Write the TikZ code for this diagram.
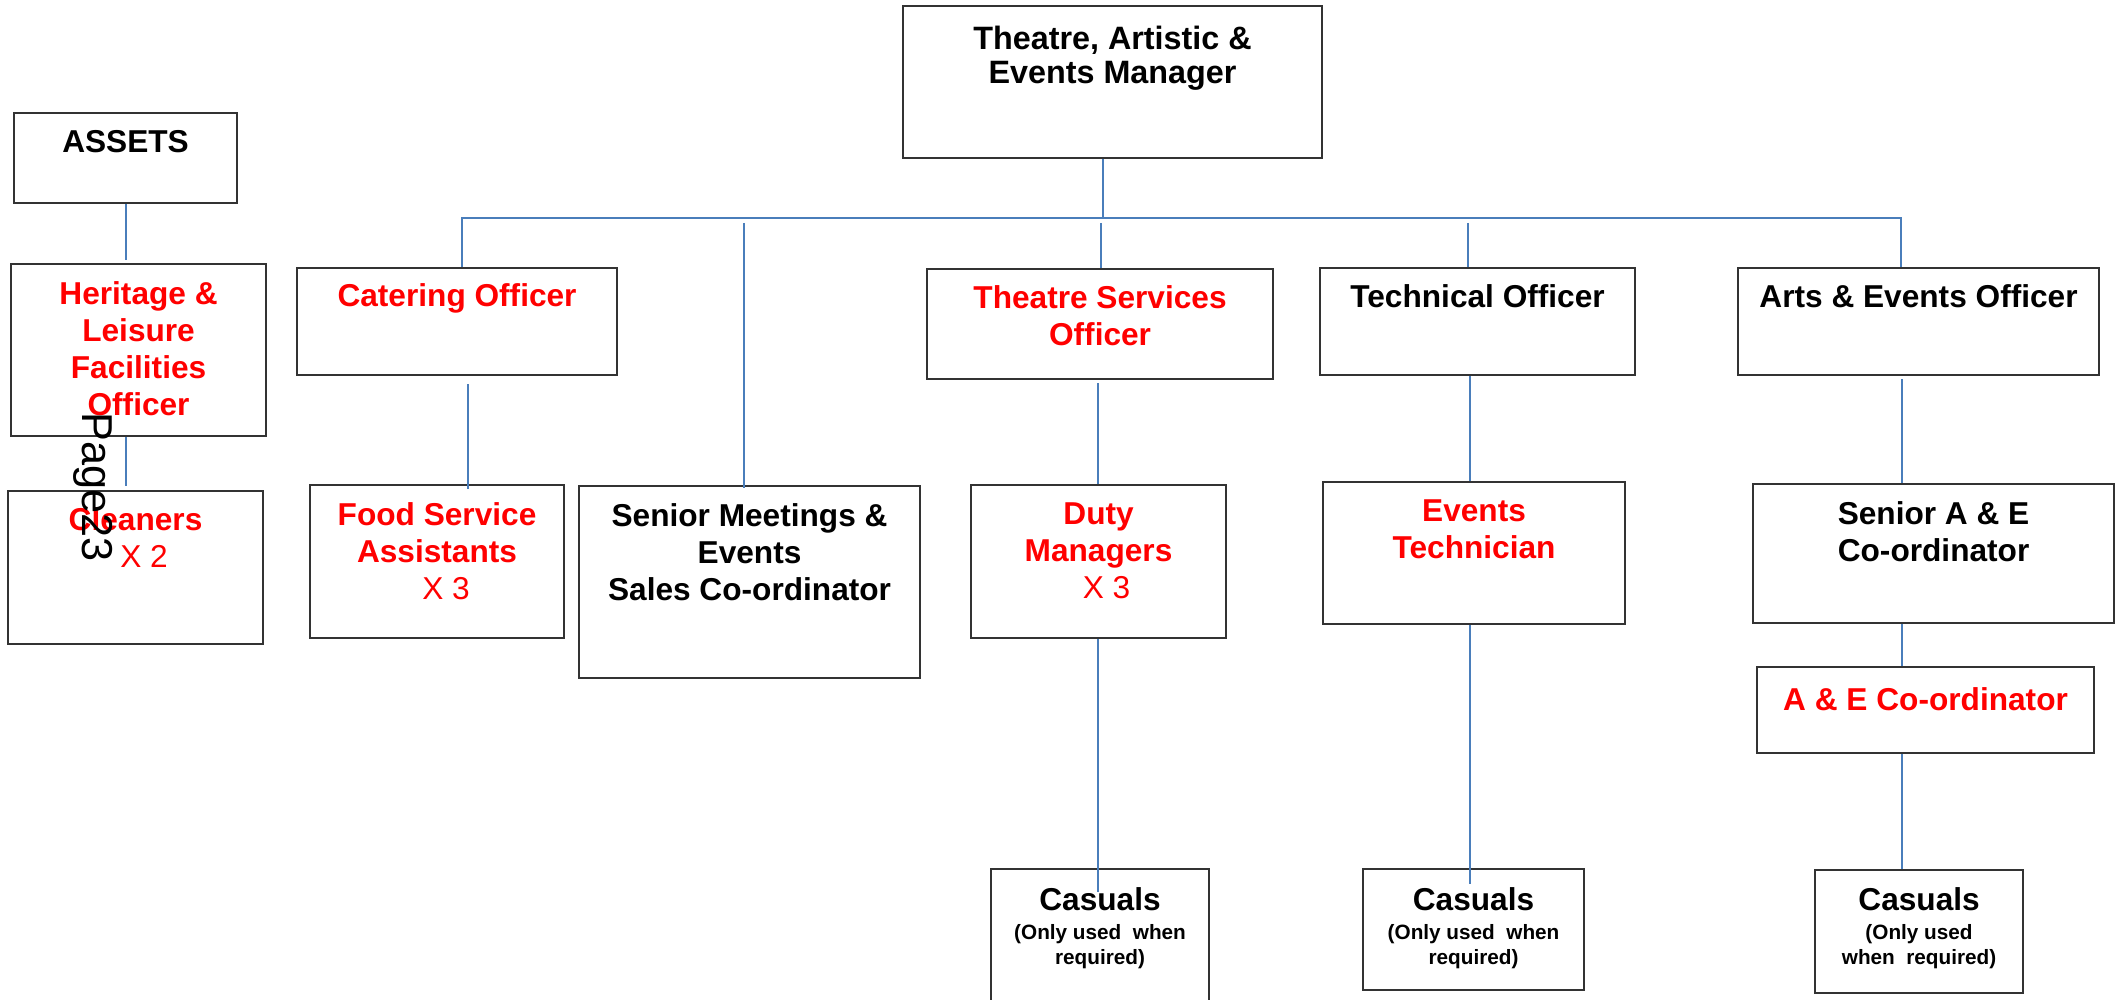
\documentclass[tikz,border=0pt]{standalone}
\usepackage{fontspec}
\setmainfont{Liberation Sans}
\usepackage{xcolor}
\usepackage{tikz}
\usetikzlibrary{positioning,calc}

\definecolor{linkblue}{HTML}{4A7EBB}

\begin{document}
\begin{tikzpicture}[
    post/.style={draw=black!80, line width=0.6pt, anchor=north west, inner sep=0pt},
    jobtext/.style={inner sep=0pt, align=center, font=\bfseries\fontsize{9}{10.5}\selectfont},
    redjob/.style={jobtext, text=red},
    notetext/.style={inner sep=0pt, align=center, font=\bfseries\fontsize{5.9}{7.1}\selectfont},
    linkline/.style={draw=linkblue, line width=0.6pt}]
    \useasboundingbox (0,0) rectangle (21.27,-10);

    % Top of the tree
    \node[post, minimum width=4.19cm, minimum height=1.52cm] (mgr) at (9.02,-0.05) {};
    % Assets side
    \node[post, minimum width=2.23cm, minimum height=0.90cm] (assets) at (0.13,-1.12) {};
    \node[post, minimum width=2.55cm, minimum height=1.72cm] (heritage) at (0.10,-2.63) {};
    \node[post, minimum width=2.55cm, minimum height=1.53cm] (cleaners) at (0.07,-4.90) {};
    % Officers
    \node[post, minimum width=3.20cm, minimum height=1.07cm] (catering) at (2.96,-2.67) {};
    \node[post, minimum width=3.46cm, minimum height=1.10cm] (tso) at (9.26,-2.68) {};
    \node[post, minimum width=3.15cm, minimum height=1.07cm] (technical) at (13.19,-2.67) {};
    \node[post, minimum width=3.61cm, minimum height=1.07cm] (arts) at (17.37,-2.67) {};
    % Second row
    \node[post, minimum width=2.54cm, minimum height=1.53cm] (food) at (3.09,-4.84) {};
    \node[post, minimum width=3.41cm, minimum height=1.92cm] (sales) at (5.78,-4.85) {};
    \node[post, minimum width=2.55cm, minimum height=1.53cm] (duty) at (9.70,-4.84) {};
    \node[post, minimum width=3.02cm, minimum height=1.42cm] (evtech) at (13.22,-4.81) {};
    \node[post, minimum width=3.61cm, minimum height=1.39cm] (seniorae) at (17.52,-4.83) {};
    \node[post, minimum width=3.37cm, minimum height=0.86cm] (aecoord) at (17.56,-6.66) {};
    % Casuals
    \node[post, minimum width=2.18cm, minimum height=1.40cm] (casA) at (9.90,-8.68) {};
    \node[post, minimum width=2.21cm, minimum height=1.21cm] (casB) at (13.62,-8.68) {};
    \node[post, minimum width=2.08cm, minimum height=1.23cm] (casC) at (18.14,-8.69) {};

    % Bus under the manager
    \coordinate (busL) at (4.62,-2.18);
    \coordinate (busR) at (19.01,-2.18);
    \coordinate (tapMgr) at (11.03,-2.18);
    \coordinate (tapSales) at (7.44,-2.18);
    \coordinate (tapTso) at (11.01,-2.18);
    \coordinate (tapTech) at (14.68,-2.18);
    \draw[linkline] (tapMgr |- mgr.south) -- (tapMgr);
    \draw[linkline] (busL |- catering.north) -- (busL) -- (busR) -- (busR |- arts.north);
    \draw[linkline, shorten <=0.05cm, shorten >=-0.03cm] (tapSales) -- (tapSales |- sales.north);
    \draw[linkline, shorten <=0.05cm] (tapTso) -- (tapTso |- tso.north);
    \draw[linkline, shorten <=0.05cm] (tapTech) -- (tapTech |- technical.north);

    % Columns
    \coordinate (spineAssets) at (1.26,0);
    \coordinate (spineFood) at (4.68,0);
    \coordinate (spineDuty) at (10.98,0);
    \coordinate (spineTech) at (14.70,0);
    \coordinate (spineArts) at (19.02,0);
    \draw[linkline, shorten >=0.03cm] (spineAssets |- assets.south) -- (spineAssets |- heritage.north);
    \draw[linkline, shorten >=0.04cm] (spineAssets |- heritage.south) -- (spineAssets |- cleaners.north);
    \draw[linkline, shorten <=0.08cm, shorten >=-0.05cm] (spineFood |- catering.south) -- (spineFood |- food.north);
    \draw[linkline, shorten <=0.03cm] (spineDuty |- tso.south) -- (spineDuty |- duty.north);
    \draw[linkline, shorten >=-0.24cm] (spineDuty |- duty.south) -- (spineDuty |- casA.north);
    \draw[linkline] (spineTech |- technical.south) -- (spineTech |- evtech.north);
    \draw[linkline, shorten >=-0.16cm] (spineTech |- evtech.south) -- (spineTech |- casB.north);
    \draw[linkline, shorten <=0.03cm] (spineArts |- arts.south) -- (spineArts |- seniorae.north);
    \draw[linkline] (spineArts |- seniorae.south) -- (spineArts |- aecoord.north);
    \draw[linkline] (spineArts |- aecoord.south) -- (spineArts |- casC.north);

    % Texts
    \node[jobtext, below=0.20 of mgr.north, font=\bfseries\fontsize{9.2}{9.7}\selectfont] (mgrtext) {Theatre, Artistic \&\\Events Manager};
    \node[jobtext, below=0.18 of assets.north] (assetstext) {ASSETS};
    \node[redjob, below=0.18 of heritage.north] (heritagetext) {Heritage \&\\Leisure\\Facilities\\Officer};
    \node[redjob, below=0.17 of cleaners.north] (cleanerstext) {Cleaners\\\textmd{\hspace*{0.17cm}X 2}};
    \node[redjob, below=0.16 of catering.north] (cateringtext) {Catering Officer};
    \node[redjob, below=0.17 of tso.north] (tsotext) {Theatre Services\\Officer};
    \node[jobtext, below=0.17 of technical.north] (technicaltext) {Technical Officer};
    \node[jobtext, below=0.17 of arts.north] (artstext) {Arts \& Events Officer};
    \node[redjob, below=0.18 of food.north] (foodtext) {Food Service\\Assistants\\\textmd{\hspace*{0.18cm}X 3}};
    \node[jobtext, below=0.18 of sales.north] (salestext) {Senior Meetings \&\\Events\\Sales Co-ordinator};
    \node[redjob, below=0.18 of duty.north] (dutytext) {Duty\\Managers\\\textmd{\hspace*{0.16cm}X 3}};
    \node[redjob, below=0.18 of evtech.north] (evtechtext) {Events\\Technician};
    \node[jobtext, below=0.18 of seniorae.north] (seniortext) {Senior A \& E\\Co-ordinator};
    \node[redjob, below=0.21 of aecoord.north] (aecoordtext) {A \& E Co-ordinator};
    \node[jobtext, below=0.19 of casA.north] (casAtext) {Casuals};
    \node[notetext, below=0.12 of casAtext] (casAnote) {(Only used\ \ when\\required)};
    \node[jobtext, below=0.19 of casB.north] (casBtext) {Casuals};
    \node[notetext, below=0.12 of casBtext] (casBnote) {(Only used\ \ when\\required)};
    \node[jobtext, below=0.18 of casC.north] (casCtext) {Casuals};
    \node[notetext, below=0.12 of casCtext] (casCnote) {(Only used\\when\ \ required)};

    % Page number over the left column
    \node[rotate=-90, anchor=base west, inner sep=0pt, font=\fontsize{12.3}{14}\selectfont] (pagenum) at (0.82,-4.12) {Page23};
\end{tikzpicture}
\end{document}
